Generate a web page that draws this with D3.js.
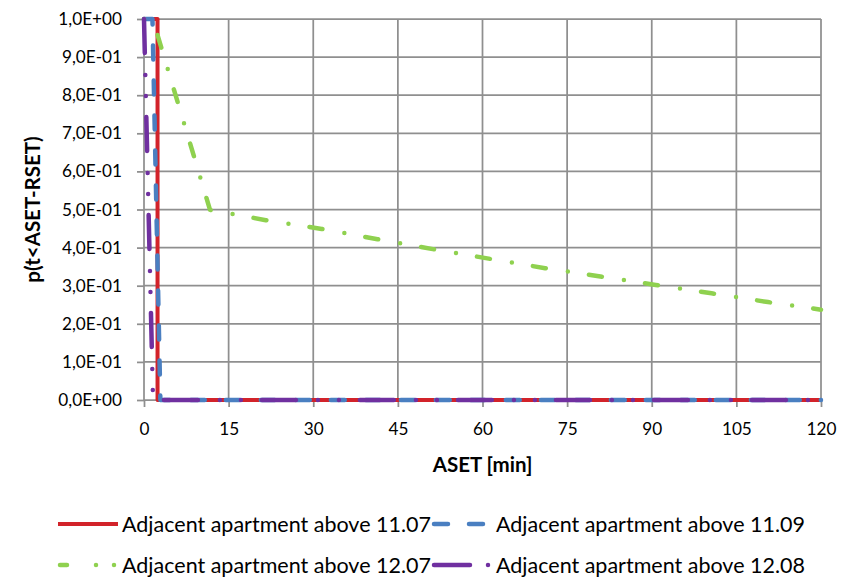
<!DOCTYPE html>
<html>
<head>
<meta charset="utf-8">
<script src="https://cdn.jsdelivr.net/npm/d3@7/dist/d3.min.js"></script>
<style>
  body { margin: 0; background: #fff; }
  svg { display: block; font-family: Lato, "Open Sans", sans-serif; }
</style>
</head>
<body>
<svg id="chart" width="841" height="581"></svg>
<script>
// ---------- data ----------
const seriesNames = [
  "Adjacent apartment above 11.07",
  "Adjacent apartment above 11.09",
  "Adjacent apartment above 12.07",
  "Adjacent apartment above 12.08"
];
const redX = [0, 2.4, 2.4, 120];
const redY = [1, 1, 0, 0];
const blueX = [0, 1.5, 2.9, 120];
const blueY = [1, 1, 0, 0];
const greenX = [0, 1.2, 2.3, 11.7, 21.6, 31.5, 41.4, 51.2, 61.1, 71.1, 80.9, 90.7, 100.6, 110.6, 120];
const greenY = [1, 0.985, 0.963, 0.499, 0.472, 0.449, 0.422, 0.396, 0.371, 0.346, 0.324, 0.302, 0.28, 0.257, 0.237];
const purpleX = [0, 1.6, 120];
const purpleY = [1, 0, 0];
const xTicks = [0, 15, 30, 45, 60, 75, 90, 105, 120];
const yTicks = [0, 0.1, 0.2, 0.3, 0.4, 0.5, 0.6, 0.7, 0.8, 0.9, 1.0];
const yTickLabels = ["0,0E+00","1,0E-01","2,0E-01","3,0E-01","4,0E-01","5,0E-01","6,0E-01","7,0E-01","8,0E-01","9,0E-01","1,0E+00"];
const xTitle = "ASET [min]";
const yTitle = "p(t<ASET-RSET)";

// ---------- styles ----------
const styles = [
  { color: "#d2232a", width: 4,   dash: null,               legDash: null,                 cap: "butt" },
  { color: "#4a7fc1", width: 4.5, dash: "14,21",            legDash: "14,21",              cap: "round" },
  { color: "#8fd14f", width: 4.5, dash: "0,21.3,13.1,22.3", legDash: "7,29,0,18,0,100",    cap: "round" },
  { color: "#7030a0", width: 4.5, dash: "34,22,0,21,0,21",  legDash: "36,18,0,100",        cap: "round" }
];
const seriesX = [redX, blueX, greenX, purpleX];
const seriesY = [redY, blueY, greenY, purpleY];

const svg = d3.select("#chart");
const L = 144, R = 821, T = 19, B = 400;
const x = d3.scaleLinear().domain([0, 120]).range([L, R]);
const y = d3.scaleLinear().domain([0, 1]).range([B, T]);
const gridColor = "#8f8f8f";

// gridlines
const grid = svg.append("g");
grid.selectAll("line.h").data(yTicks).join("line")
  .attr("x1", L).attr("x2", R)
  .attr("y1", d => y(d)).attr("y2", d => y(d))
  .attr("stroke", gridColor).attr("stroke-width", 1.75);
grid.selectAll("line.v").data(xTicks).join("line")
  .attr("y1", T).attr("y2", B)
  .attr("x1", d => x(d)).attr("x2", d => x(d))
  .attr("stroke", gridColor).attr("stroke-width", 1.75);

// axes
const yAxis = svg.append("g").attr("transform", `translate(${L},0)`)
  .call(d3.axisLeft(y).tickValues(yTicks).tickFormat((d, i) => yTickLabels[i]).tickSize(7).tickPadding(15));
const xAxis = svg.append("g").attr("transform", `translate(0,${B})`)
  .call(d3.axisBottom(x).tickValues(xTicks).tickFormat(d3.format("d")).tickSize(7).tickPadding(16));
[yAxis, xAxis].forEach(a => {
  a.select(".domain").remove();
  a.selectAll(".tick line").attr("stroke", gridColor).attr("stroke-width", 1.75);
  a.selectAll(".tick text").attr("fill", "#000").style("font-size", "17.2px").style("font-family", "Lato, sans-serif");
});

// series
const line = d3.line().x(d => x(d[0])).y(d => y(d[1]));
seriesX.forEach((xs, i) => {
  const pts = xs.map((v, j) => [v, seriesY[i][j]]);
  const s = styles[i];
  svg.append("path").datum(pts)
    .attr("d", line)
    .attr("fill", "none")
    .attr("stroke", s.color)
    .attr("stroke-width", s.width)
    .attr("stroke-linecap", s.cap)
    .attr("stroke-linejoin", "round")
    .attr("stroke-dasharray", s.dash);
});

// titles
svg.append("text").attr("x", (L + R) / 2).attr("y", 472)
  .attr("text-anchor", "middle").style("font-weight", "bold").style("font-size", "20.5px")
  .text(xTitle);
svg.append("text").attr("transform", `translate(33,${(T + B) / 2}) rotate(-90)`)
  .attr("text-anchor", "middle").attr("dy", "0.35em")
  .style("font-weight", "bold").style("font-size", "20.5px")
  .text(yTitle);

// legend
const legPos = [[58, 524], [432, 524], [58, 565], [432, 565]];
seriesNames.forEach((name, i) => {
  const [lx, ly] = legPos[i];
  const s = styles[i];
  const g = svg.append("g");
  const inset = s.cap === "round" ? 2 : 0;
  g.append("line").attr("x1", lx + inset).attr("x2", lx + 60 - inset).attr("y1", ly).attr("y2", ly)
    .attr("stroke", s.color).attr("stroke-width", s.width)
    .attr("stroke-linecap", s.cap).attr("stroke-dasharray", s.legDash);
  g.append("text").attr("x", lx + 64).attr("y", ly).attr("dy", "0.35em")
    .style("font-size", "21.5px").text(name);
});
</script>
</body>
</html>
